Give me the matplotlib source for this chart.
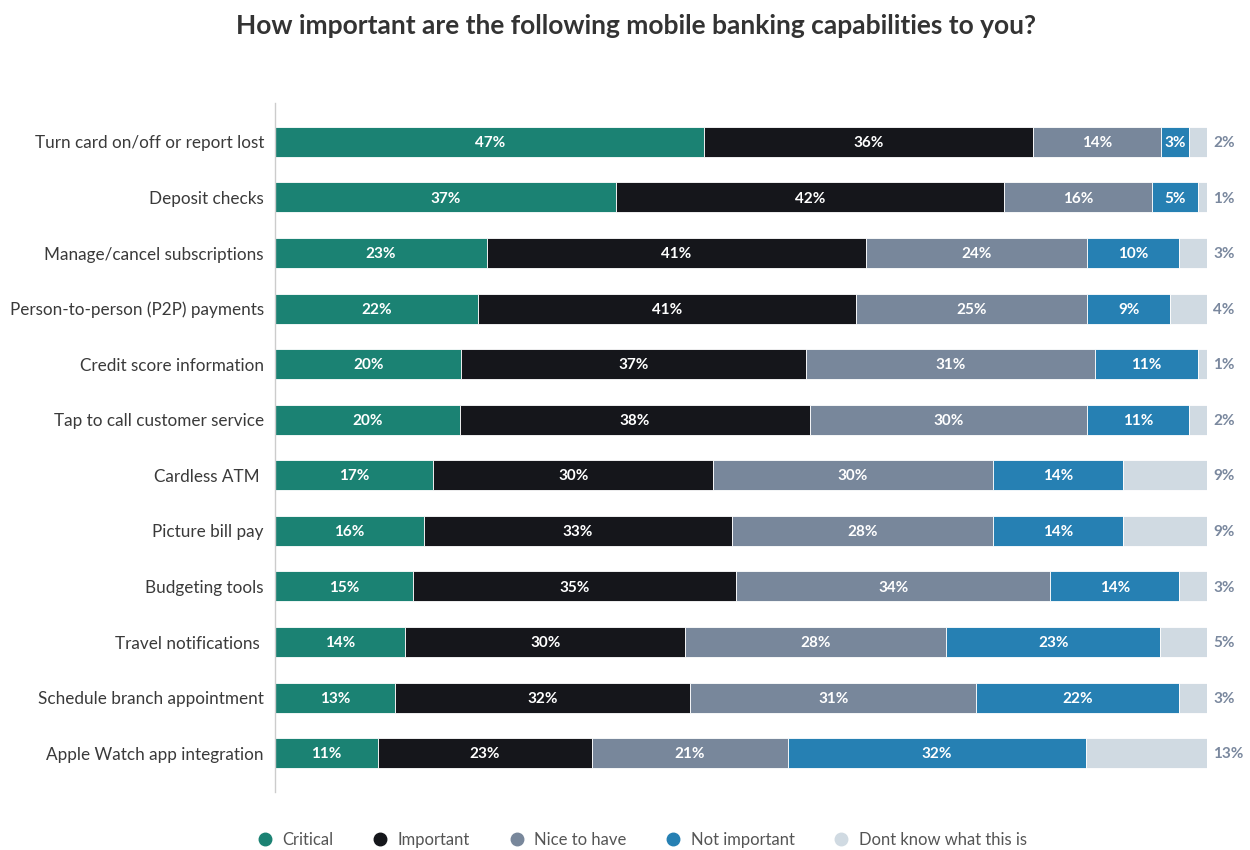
import matplotlib
matplotlib.use("Agg")
import matplotlib.pyplot as plt
from matplotlib.lines import Line2D
import numpy as np

plt.rcParams['font.family'] = ['Lato', 'DejaVu Sans']

categories = [
    "Turn card on/off or report lost",
    "Deposit checks",
    "Manage/cancel subscriptions",
    "Person-to-person (P2P) payments",
    "Credit score information",
    "Tap to call customer service",
    "Cardless ATM ",
    "Picture bill pay",
    "Budgeting tools",
    "Travel notifications ",
    "Schedule branch appointment",
    "Apple Watch app integration",
]
critical      = [47, 37, 23, 22, 20, 20, 17, 16, 15, 14, 13, 11]
important     = [36, 42, 41, 41, 37, 38, 30, 33, 35, 30, 32, 23]
nice_to_have  = [14, 16, 24, 25, 31, 30, 30, 28, 34, 28, 31, 21]
not_important = [3, 5, 10, 9, 11, 11, 14, 14, 14, 23, 22, 32]
dont_know     = [2, 1, 3, 4, 1, 2, 9, 9, 3, 5, 3, 13]

series_names = ["Critical", "Important", "Nice to have", "Not important", "Dont know what this is"]
colors = ["#1b8273", "#15161b", "#78879b", "#2680b3", "#d0dae2"]

data = np.array([critical, important, nice_to_have, not_important, dont_know], dtype=float)
totals = data.sum(axis=0)
widths = data / totals * 100.0

fig = plt.figure(figsize=(12.5, 8.5), dpi=100)
ax = fig.add_axes([0.22, 0.0682, 0.7456, 0.8106])

y = np.arange(len(categories))
left = np.zeros(len(categories))
for i, (name, col) in enumerate(zip(series_names, colors)):
    ax.barh(y, widths[i], left=left, height=0.54, color=col,
            edgecolor="white", linewidth=0.6, label=name)
    for j in range(len(categories)):
        val = int(data[i, j])
        if i < 4:
            ax.text(left[j] + widths[i, j] / 2, y[j] + 0.02, f"{val}%", ha="center", va="center",
                    color="white", fontsize=11, fontweight="bold")
        else:
            ax.text(100.65, y[j] + 0.02, f"{val}%", ha="left", va="center",
                    color="#7a889e", fontsize=11, fontweight="bold")
    left = left + widths[i]

ax.set_xlim(0, 100)
ax.set_ylim(len(categories) - 0.3, -0.7)
ax.set_yticks(y)
ax.set_yticklabels(categories, fontsize=12.3, color="#3a3a3a")
ax.tick_params(axis="y", length=0, pad=8)
ax.set_xticks([])
for s in ["top", "right", "bottom"]:
    ax.spines[s].set_visible(False)
ax.spines["left"].set_color("#cccccc")
ax.spines["left"].set_linewidth(1)

fig.text(0.509, 0.97, "How important are the following mobile banking capabilities to you?",
         ha="center", va="center", fontsize=19, fontweight="bold", color="#333333")

handles = [Line2D([0], [0], marker="o", linestyle="", markersize=9,
                  markerfacecolor=c, markeredgecolor=c) for c in colors]
fig.legend(handles, series_names, loc="center", bbox_to_anchor=(0.510, 0.012),
           ncol=5, frameon=False, fontsize=12, handletextpad=0.05,
           columnspacing=1.8, labelcolor="#555555")

fig.savefig("out.png", dpi=100)
